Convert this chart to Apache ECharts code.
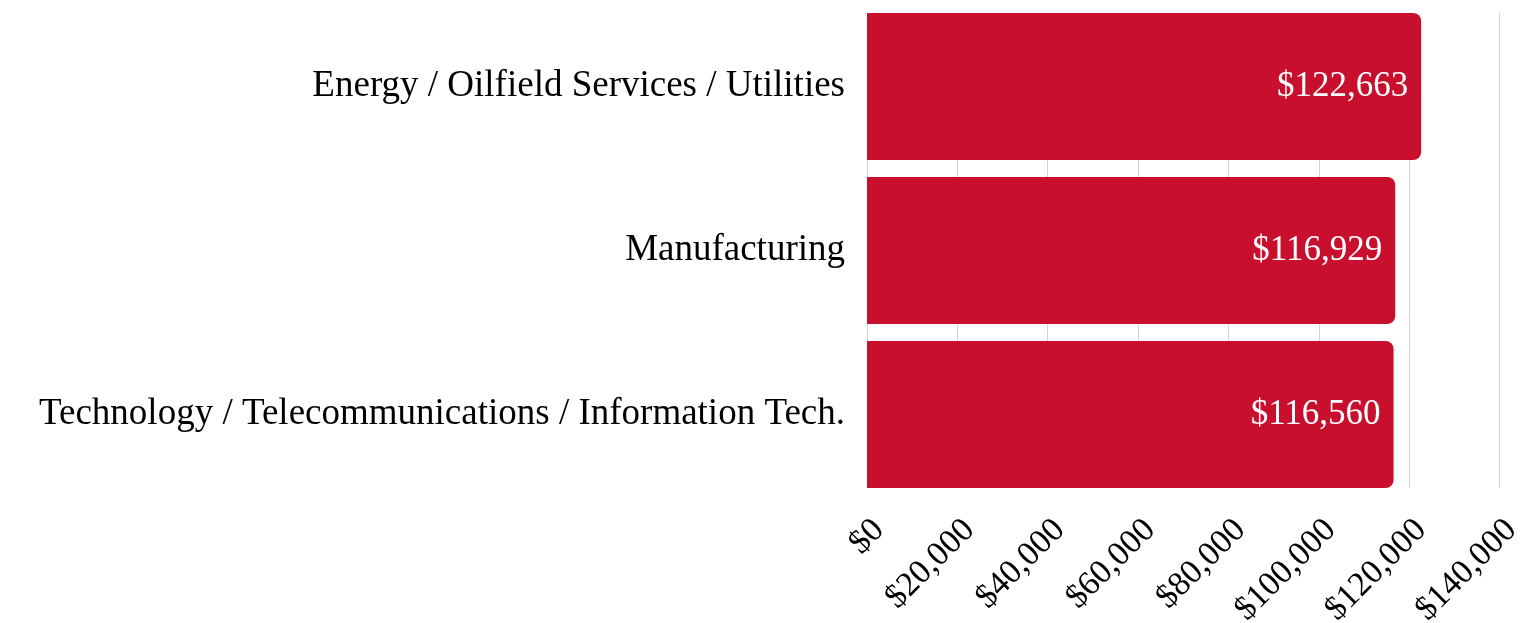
<!DOCTYPE html>
<html><head><meta charset="utf-8">
<script src="https://cdn.jsdelivr.net/npm/echarts@6/dist/echarts.min.js"></script>
<style>html,body{margin:0;padding:0;background:#fff}#c{width:1529px;height:623px}</style>
</head><body><div id="c"></div>
<script>
const categories = ["Energy / Oilfield Services / Utilities", "Manufacturing", "Technology / Telecommunications / Information Tech."];
const values = [122663, 116929, 116560];
const axisMin = 0, axisMax = 140000, axisStep = 20000;
const FONT = "Liberation Serif";
const money = v => "$" + Math.round(v).toLocaleString("en-US");

const chart = echarts.init(document.getElementById("c"), null, {renderer: "canvas"});
chart.setOption({
  animation: false,
  grid: [
    {left: 867, right: 29.5, top: 13, bottom: 135, containLabel: false, outerBoundsMode: "none"},
    {left: 867, right: 29.5, top: 4.5, bottom: 126.5, containLabel: false, outerBoundsMode: "none"}
  ],
  xAxis: [
    {gridIndex: 0, type: "value", min: axisMin, max: axisMax, interval: axisStep,
     axisLine: {show: false}, axisTick: {show: false},
     splitLine: {show: true, lineStyle: {color: "#d3d3d3", width: 1}},
     axisLabel: {rotate: 45, margin: 25, verticalAlign: "top", fontFamily: FONT, fontSize: 34, color: "#000", formatter: money}},
    {gridIndex: 1, type: "value", min: axisMin, max: axisMax, interval: axisStep, show: false}
  ],
  yAxis: [
    {gridIndex: 0, type: "category", data: categories, inverse: true, show: false},
    {gridIndex: 1, type: "category", data: categories, inverse: true,
     axisLine: {show: false}, axisTick: {show: false},
     axisLabel: {margin: 22, fontFamily: FONT, fontSize: 37, color: "#000"}}
  ],
  series: [{
    type: "bar", xAxisIndex: 1, yAxisIndex: 1, data: values,
    barCategoryGap: "10.4%",
    itemStyle: {color: "#C8102E", borderRadius: [0, 8, 8, 0]},
    label: {show: true, position: "insideRight", distance: 13, color: "#fff",
            fontFamily: FONT, fontSize: 35, formatter: p => money(p.value)}
  }]
});
</script></body></html>
